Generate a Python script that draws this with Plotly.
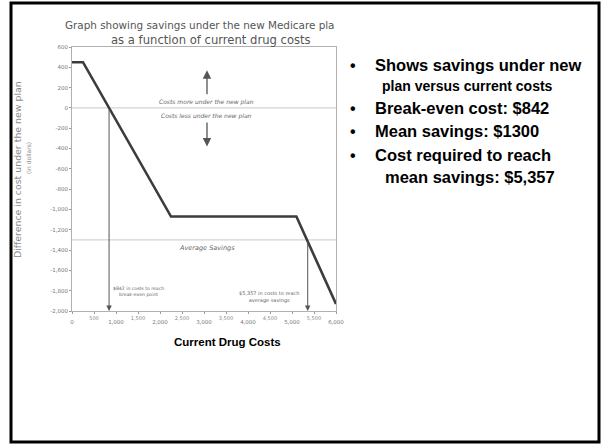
import plotly.graph_objects as go

# ---- data ----
drug_costs = [0, 250, 2250, 5100, 6000]
cost_difference = [450, 450, -1070, -1070, -1930]
break_even_cost = 842
mean_savings = -1300
cost_to_mean = 5357

y_tick_vals = [600, 400, 200, 0, -200, -400, -600, -800, -1000, -1200, -1400, -1600, -1800, -2000]
y_tick_text = ["600", "400", "200", "0", "-200", "-400", "-600", "-800", "-1,000", "-1,200",
               "-1,400", "-1,600", "-1,800", "-2,000"]
x_major_vals = [0, 1000, 2000, 3000, 4000, 5000, 6000]
x_major_text = ["0", "1,000", "2,000", "3,000", "4,000", "5,000", "6,000"]
x_minor_vals = [500, 1500, 2500, 3500, 4500, 5500]
x_minor_text = ["500", "1,500", "2,500", "3,500", "4,500", "5,500"]

title_lines = ["Graph showing savings under the new Medicare pla", "as a function of current drug costs"]
y_title = "Difference in cost under the new plan"
y_subtitle = "(in dollars)"
x_title = "Current Drug Costs"
bullets = [
    ("•", "Shows savings under new", 16.5),
    ("", "plan versus current costs", 14),
    ("•", "Break-even cost: $842", 16.5),
    ("•", "Mean savings: $1300", 16.5),
    ("•", "Cost required to reach", 16.5),
    ("", "mean savings: $5,357", 16.5),
]

# ---- layout geometry (pixels) ----
W, H = 605, 445
L, R, T, B = 72, 336, 47, 311


def xp(px):
    return (px - L) / (R - L)


def yp(py):
    return (B - py) / (B - T)


TXT = "#555555"

fig = go.Figure()
fig.add_trace(go.Scatter(x=drug_costs, y=cost_difference, mode="lines",
                         line=dict(color="#3c3c3c", width=2.6), showlegend=False,
                         hoverinfo="x+y"))
# dummy trace for second x axis
fig.add_trace(go.Scatter(x=[x_minor_vals[0]], y=[None], xaxis="x2", showlegend=False, hoverinfo="skip"))

shapes = [
    dict(type="line", xref="x", yref="y", x0=0, x1=6000, y0=0, y1=0,
         line=dict(color="#c8c8c8", width=1), layer="below"),
    dict(type="line", xref="x", yref="y", x0=0, x1=6000, y0=mean_savings, y1=mean_savings,
         line=dict(color="#c8c8c8", width=1), layer="below"),
    # slide border
    dict(type="rect", xref="paper", yref="paper", x0=xp(11), x1=xp(599), y0=yp(3), y1=yp(442),
         line=dict(color="black", width=3)),
]

ann = []
# vertical arrows to axis
ann.append(dict(x=break_even_cost, y=-2000, ax=break_even_cost, ay=0, xref="x", yref="y",
                axref="x", ayref="y", showarrow=True, arrowhead=2, arrowsize=1.1, arrowwidth=1,
                arrowcolor="#555", text=""))
ann.append(dict(x=cost_to_mean, y=-2000, ax=cost_to_mean, ay=mean_savings, xref="x", yref="y",
                axref="x", ayref="y", showarrow=True, arrowhead=2, arrowsize=1.1, arrowwidth=1,
                arrowcolor="#555", text=""))
# up / down arrows
ann.append(dict(x=3068, y=370, ax=3068, ay=120, xref="x", yref="y", axref="x", ayref="y",
                showarrow=True, arrowhead=2, arrowsize=1.3, arrowwidth=1.3, arrowcolor="#555", text=""))
ann.append(dict(x=3068, y=-380, ax=3068, ay=-130, xref="x", yref="y", axref="x", ayref="y",
                showarrow=True, arrowhead=2, arrowsize=1.3, arrowwidth=1.3, arrowcolor="#555", text=""))

small = dict(family="DejaVu Sans", size=6, color="#666")
ann.append(dict(x=3068, y=59, xref="x", yref="y", text="<i>Costs more under the new plan</i>",
                showarrow=False, font=small))
ann.append(dict(x=3068, y=-79, xref="x", yref="y", text="<i>Costs less under the new plan</i>",
                showarrow=False, font=small))
ann.append(dict(x=3068, y=-1376, xref="x", yref="y", text="<i>Average Savings</i>",
                showarrow=False, font=dict(family="DejaVu Sans", size=6.5, color="#666")))
ann.append(dict(x=890, y=-1805, xref="x", yref="y", xanchor="left",
                text="$842 in costs to reach<br>break-even point",
                showarrow=False, font=dict(family="DejaVu Sans", size=4.6, color="#666")))
ann.append(dict(x=4480, y=-1865, xref="x", yref="y",
                text="$5,357 in costs to reach<br>average savings",
                showarrow=False, font=dict(family="DejaVu Sans", size=5, color="#666")))

# titles
ann.append(dict(x=xp(63), y=yp(25), xref="paper", yref="paper", xanchor="left", yanchor="middle",
                text=title_lines[0], showarrow=False,
                font=dict(family="DejaVu Sans", size=10.4, color=TXT)))
ann.append(dict(x=xp(211), y=yp(40), xref="paper", yref="paper", xanchor="center", yanchor="middle",
                text=title_lines[1], showarrow=False,
                font=dict(family="DejaVu Sans", size=11.6, color=TXT)))
ann.append(dict(x=xp(17), y=yp(170), xref="paper", yref="paper", xanchor="center", yanchor="middle",
                text=y_title, textangle=-90, showarrow=False,
                font=dict(family="DejaVu Sans", size=9.4, color="#8a8a8a")))
ann.append(dict(x=xp(28), y=yp(158), xref="paper", yref="paper", xanchor="center", yanchor="middle",
                text=y_subtitle, textangle=-90, showarrow=False,
                font=dict(family="DejaVu Sans", size=6, color="#8a8a8a")))
ann.append(dict(x=xp(227), y=yp(342), xref="paper", yref="paper", xanchor="center", yanchor="middle",
                text="<b>" + x_title + "</b>", showarrow=False,
                font=dict(family="Liberation Sans", size=11.5, color="black")))

# bullets
bullet_y = [65, 86, 108, 131, 155, 177]
text_x = [373, 380, 373, 373, 373, 383]
for (b, t, s), by, tx in zip(bullets, bullet_y, text_x):
    if b:
        ann.append(dict(x=xp(353), y=yp(by), xref="paper", yref="paper", xanchor="center",
                        yanchor="middle", text="<b>" + b + "</b>", showarrow=False,
                        font=dict(family="Liberation Sans", size=16, color="black")))
    ann.append(dict(x=xp(tx), y=yp(by), xref="paper", yref="paper", xanchor="left", yanchor="middle",
                    text="<b>" + t + "</b>", showarrow=False,
                    font=dict(family="Liberation Sans", size=s, color="black")))

axis_font = dict(family="DejaVu Sans", size=5.5, color="#777")
fig.update_layout(
    width=W, height=H,
    margin=dict(l=L, r=W - R, t=T, b=H - B),
    paper_bgcolor="white", plot_bgcolor="white",
    showlegend=False,
    xaxis=dict(range=[0, 6000], tickvals=x_major_vals, ticktext=x_major_text, showgrid=False,
               zeroline=False, showline=True, linecolor="#b0b0b0", mirror=True, ticks="outside",
               ticklen=2, tickcolor="#999", tickfont=axis_font, ticklabelstandoff=3),
    xaxis2=dict(range=[0, 6000], overlaying="x", anchor="y", side="bottom", tickvals=x_minor_vals,
                ticktext=x_minor_text, showgrid=False, zeroline=False, showline=False,
                ticks="outside", ticklen=2, tickcolor="#999",
                tickfont=dict(family="DejaVu Sans", size=5, color="#888"),
                ticklabelstandoff=0),
    yaxis=dict(range=[-2000, 600], tickvals=y_tick_vals, ticktext=y_tick_text, showgrid=False,
               zeroline=False, showline=True, linecolor="#b0b0b0", mirror=True, ticks="outside",
               ticklen=2, tickcolor="#999", tickfont=axis_font),
    shapes=shapes,
    annotations=ann,
)

fig.write_html("out.html")
